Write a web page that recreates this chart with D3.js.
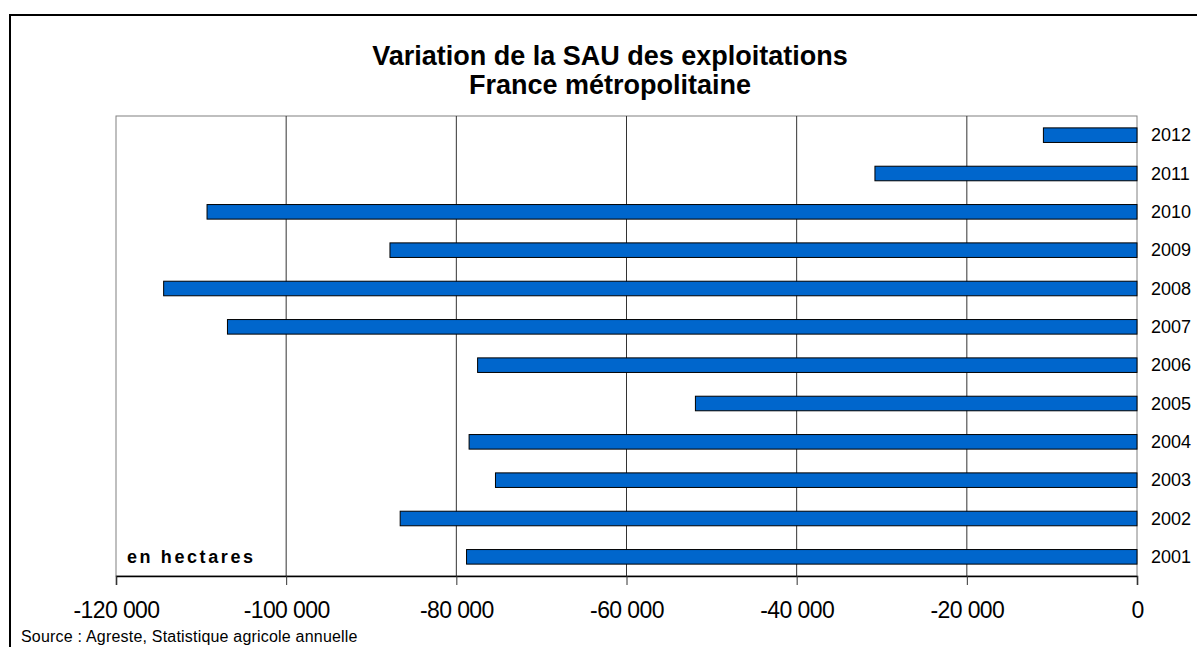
<!DOCTYPE html>
<html>
<head>
<meta charset="utf-8">
<script src="https://cdn.jsdelivr.net/npm/d3@7"></script>
<style>
  body { margin: 0; background: #fff; }
  svg { display: block; font-family: "Liberation Sans", Arial, sans-serif; }
</style>
</head>
<body>
<svg id="chart"></svg>
<script>
// data
const years = ["2001", "2002", "2003", "2004", "2005", "2006", "2007", "2008", "2009", "2010", "2011", "2012"];
const variation = [-78800, -86600, -75400, -78500, -51900, -77500, -106900, -114400, -87800, -109300, -30800, -11000];
const xTicks = [-120000, -100000, -80000, -60000, -40000, -20000, 0];

const titleLines = ["Variation de la SAU des exploitations", "France métropolitaine"];
const unitLabel = "en hectares";
const sourceText = "Source : Agreste, Statistique agricole annuelle";

const width = 1197;
const height = 647;
const plot = { left: 116, right: 1137, top: 116, bottom: 576 };

const svg = d3.select("#chart").attr("width", width).attr("height", height);

// outer frame (only top and left edges visible)
svg.append("rect")
  .attr("x", 10).attr("y", 15)
  .attr("width", width + 20).attr("height", height + 20)
  .attr("fill", "none").attr("stroke", "#000").attr("stroke-width", 2);

const locale = d3.formatLocale({ decimal: ",", thousands: " ", grouping: [3], currency: ["", " €"], minus: "-" });
const fmt = locale.format(",d");

const x = d3.scaleLinear().domain([-120000, 0]).range([plot.left, plot.right]);
const y = d3.scaleBand()
  .domain(years.slice().reverse())
  .range([plot.top, plot.bottom])
  .paddingInner(0.62)
  .paddingOuter(0.31);

// title
svg.append("g").selectAll("text").data(titleLines).enter().append("text")
  .attr("x", 610)
  .attr("y", (d, i) => 65 + i * 28.5)
  .attr("text-anchor", "middle")
  .attr("font-size", 27)
  .attr("font-weight", "bold")
  .attr("fill", "#000")
  .text(d => d);

// plot area border (grey)
svg.append("rect")
  .attr("x", plot.left).attr("y", plot.top)
  .attr("width", plot.right - plot.left).attr("height", plot.bottom - plot.top)
  .attr("fill", "none").attr("stroke", "#808080").attr("stroke-width", 1);

// vertical gridlines
svg.append("g").selectAll("line").data(xTicks.slice(1, -1)).enter().append("line")
  .attr("x1", d => x(d)).attr("x2", d => x(d))
  .attr("y1", plot.top).attr("y2", plot.bottom)
  .attr("stroke", "#333").attr("stroke-width", 1);

// bars
svg.append("g").selectAll("rect").data(years).enter().append("rect")
  .attr("x", (d, i) => x(variation[i]))
  .attr("y", d => y(d))
  .attr("width", (d, i) => x(0) - x(variation[i]))
  .attr("height", y.bandwidth())
  .attr("fill", "#0066CC")
  .attr("stroke", "#000")
  .attr("stroke-width", 1);

// x axis
const xAxis = d3.axisBottom(x)
  .tickValues(xTicks)
  .tickSize(9)
  .tickPadding(17)
  .tickFormat(fmt);

const gx = svg.append("g")
  .attr("transform", "translate(0," + plot.bottom + ")")
  .call(xAxis);
gx.select(".domain").attr("stroke", "#000").attr("stroke-width", 1.5);
gx.selectAll(".tick line").attr("stroke", "#333");
gx.selectAll(".tick text")
  .attr("font-family", "Liberation Sans, Arial, sans-serif")
  .attr("font-size", 23)
  .attr("letter-spacing", "-0.6px")
  .attr("fill", "#000");

// year labels on the right
svg.append("g").selectAll("text").data(years).enter().append("text")
  .attr("x", 1151)
  .attr("y", d => y(d) + y.bandwidth() / 2)
  .attr("dy", "0.35em")
  .attr("font-size", 18)
  .attr("fill", "#000")
  .text(d => d);

// unit label
svg.append("text")
  .attr("x", 127)
  .attr("y", 563)
  .attr("font-size", 18)
  .attr("font-weight", "bold")
  .attr("letter-spacing", "2.6px")
  .attr("fill", "#000")
  .text(unitLabel);

// source
svg.append("text")
  .attr("x", 21)
  .attr("y", 642)
  .attr("font-size", 16)
  .attr("letter-spacing", "0.2px")
  .attr("fill", "#000")
  .text(sourceText);
</script>
</body>
</html>
